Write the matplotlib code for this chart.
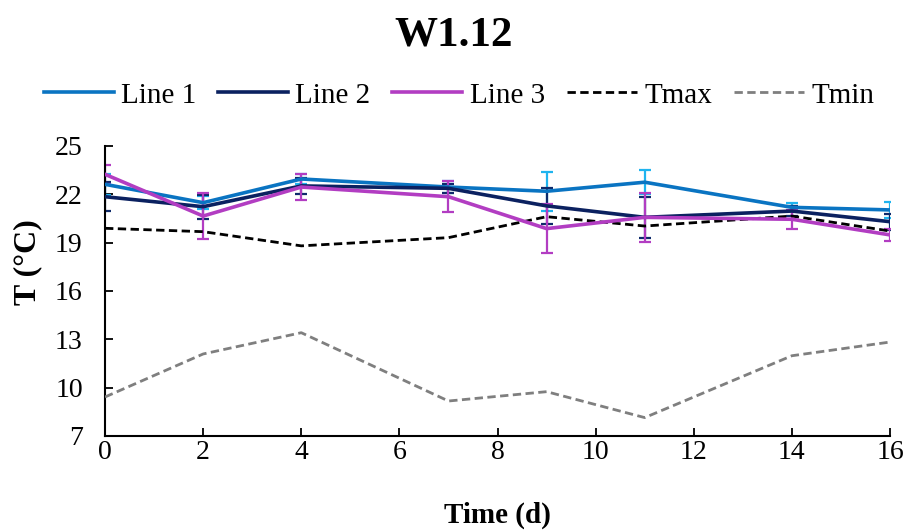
import numpy as np
import matplotlib.pyplot as plt

plt.rcParams['font.family'] = ['Liberation Serif', 'DejaVu Serif']

days = [0, 2, 4, 7, 9, 11, 14, 16]

line1 = [22.62, 21.48, 22.95, 22.45, 22.19, 22.75, 21.19, 21.03]
line1_err = [0.65, 0.4, 0.3, 0.4, 1.2, 0.75, 0.25, 0.5]
line2 = [21.85, 21.23, 22.52, 22.37, 21.28, 20.57, 20.96, 20.3]
line2_err = [0.9, 0.74, 0.5, 0.3, 1.1, 1.28, 0.3, 0.5]
line3 = [23.24, 20.65, 22.45, 21.85, 19.87, 20.57, 20.45, 19.48]
line3_err = [0.6, 1.42, 0.8, 0.95, 1.52, 1.52, 0.6, 0.36]

tmax = [19.89, 19.68, 18.8, 19.31, 20.61, 20.03, 20.65, 19.72]
tmin = [9.42, 12.09, 13.41, 9.17, 9.75, 8.14, 11.98, 12.83]

fig = plt.figure(figsize=(9.07, 5.30), dpi=100)
ax = fig.add_axes([0.1158, 0.1774, 0.8655, 0.5472])

# error bars first, lines on top
for y, e, c in [(line1, line1_err, '#1FB4EF'), (line2, line2_err, '#0E2A6B'),
                (line3, line3_err, '#B23DC2')]:
    ax.errorbar(days, y, yerr=e, fmt='none', ecolor=c, elinewidth=1.6,
                capsize=4.5, capthick=1.6, zorder=2)

ax.plot(days, line1, color='#0A74C2', lw=2.6, label='Line 1', zorder=3)
ax.plot(days, line2, color='#0B2160', lw=2.6, label='Line 2', zorder=3)
ax.plot(days, line3, color='#B23DC2', lw=2.6, label='Line 3', zorder=4)
ax.plot(days, tmax, color='black', lw=2, ls=(0, (3, 1.6)), label='Tmax', zorder=3)
ax.plot(days, tmin, color='#7F7F7F', lw=2, ls=(0, (3, 1.6)), label='Tmin', zorder=3)

ax.set_xlim(0, 16)
ax.set_ylim(7, 25)
ax.set_xticks(range(0, 17, 2))
ax.set_yticks([7, 10, 13, 16, 19, 22, 25])
ax.tick_params(direction='in', length=6, width=1.3, labelsize=20)
ax.tick_params(axis='x', pad=3)
ax.tick_params(axis='y', pad=16)
for s in ['top', 'right']:
    ax.spines[s].set_visible(False)
for s in ['left', 'bottom']:
    ax.spines[s].set_linewidth(1.5)

ax.set_xlabel('Time (d)', fontsize=21, fontweight='bold')
ax.xaxis.set_label_coords(0.5, -0.225)
ax.set_ylabel('T (°C)', fontsize=23, fontweight='bold')
ax.yaxis.set_label_coords(-0.08, 0.6)
fig.suptitle('W1.12', fontsize=31, fontweight='bold', y=0.968)

fig.legend(loc='center', bbox_to_anchor=(0.506, 0.82), ncol=5, frameon=False,
           fontsize=21, handlelength=2.4, columnspacing=0.75, handletextpad=0.25)

fig.savefig('out.png', dpi=100)
